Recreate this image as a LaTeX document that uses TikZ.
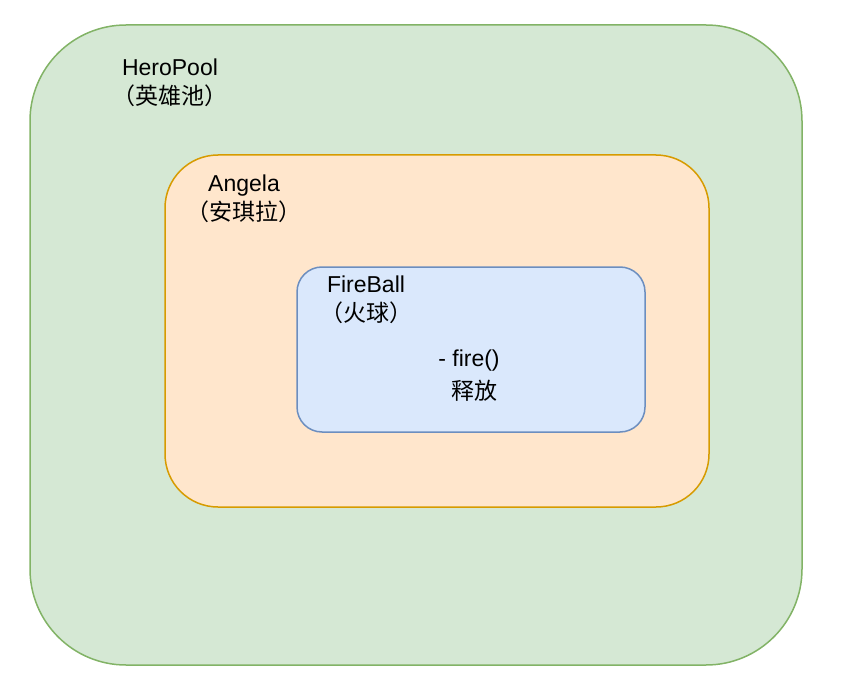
\documentclass[tikz,border=0pt]{standalone}
\usepackage{fontspec}
\setmainfont{Liberation Sans}
\newfontfamily\cjk{Noto Sans CJK SC}

\begin{document}
\begin{tikzpicture}[
    x=1pt,
    y=-1pt,
    pool box/.style={draw=poolEdge, fill=poolFill, line width=1.5pt, rounded corners=96pt},
    hero box/.style={draw=heroEdge, fill=heroFill, line width=1.5pt, rounded corners=53pt},
    skill box/.style={draw=skillEdge, fill=skillFill, line width=1.5pt, rounded corners=25pt},
    box label/.style={font=\fontsize{23}{29}\selectfont, text=black, inner sep=0pt, align=center}
]

\definecolor{poolFill}{HTML}{D5E8D4}
\definecolor{poolEdge}{HTML}{82B366}
\definecolor{heroFill}{HTML}{FFE6CC}
\definecolor{heroEdge}{HTML}{D79B00}
\definecolor{skillFill}{HTML}{DAE8FC}
\definecolor{skillEdge}{HTML}{6C8EBF}

% Page frame, same size as the reference.
\useasboundingbox (0,0) rectangle (844,674);

% Nested containers: pool, hero, skill.
\draw[pool box] (30,25) rectangle (802,665);
\draw[hero box] (165,155) rectangle (709,507);
\draw[skill box] (297,267) rectangle (645,432);

% Container titles.
\node[box label] (poolTitle) at (170,83) {HeroPool\\{\cjk （英雄池）}};
\node[box label] (heroTitle) at (244,199) {Angela\\{\cjk （安琪拉）}};
\node[box label] (skillTitle) at (366,300) {FireBall\\{\cjk （火球）}};

% Skill method.
\node[box label] (fireMethod) at (469,361) {- fire()};
\node[box label] (fireNote) at (474,391) {\cjk 释放};

\end{tikzpicture}
\end{document}
